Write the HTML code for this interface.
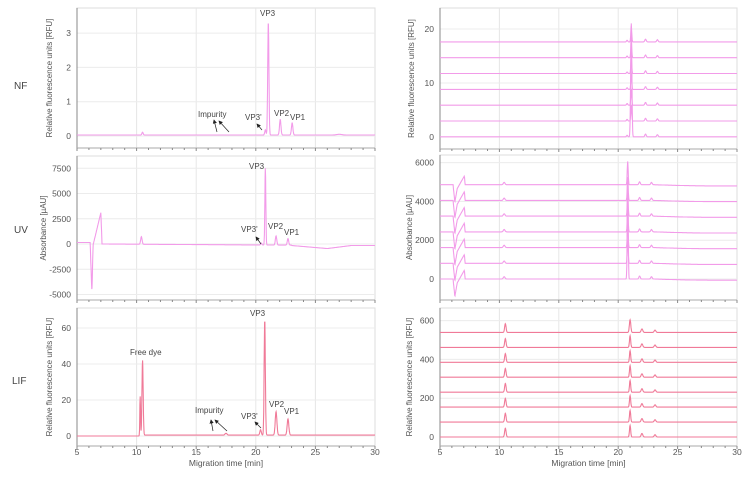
<!DOCTYPE html>
<html><head><meta charset="utf-8">
<style>
html,body{margin:0;padding:0;background:#fff;}
svg{display:block;font-family:"Liberation Sans",sans-serif;}
</style></head>
<body>
<svg id="s" width="750" height="488" viewBox="0 0 750 488" xmlns="http://www.w3.org/2000/svg">
<defs><marker id="ah" markerWidth="6" markerHeight="6" refX="5" refY="3" orient="auto"><path d="M0,0 L6,3 L0,6 z" fill="#222"/></marker></defs>
<g id="g"></g>
<g font-size="9" fill="#444">
<text x="14" y="89" font-size="10">NF</text>
<text x="14" y="233" font-size="10">UV</text>
<text x="12" y="384" font-size="10">LIF</text>
<text x="260" y="16" font-size="8">VP3</text>
<text x="198" y="117" font-size="8">Impurity</text>
<text x="245" y="120" font-size="8">VP3'</text>
<text x="274" y="116" font-size="8">VP2</text>
<text x="290" y="120" font-size="8">VP1</text>
<text x="249" y="169" font-size="8">VP3</text>
<text x="241" y="232" font-size="8">VP3'</text>
<text x="268" y="229" font-size="8">VP2</text>
<text x="284" y="235" font-size="8">VP1</text>
<text x="250" y="316" font-size="8">VP3</text>
<text x="130" y="355" font-size="8">Free dye</text>
<text x="195" y="413" font-size="8">Impurity</text>
<text x="241" y="419" font-size="8">VP3'</text>
<text x="269" y="407" font-size="8">VP2</text>
<text x="284" y="414" font-size="8">VP1</text>
</g>
<g stroke="#222" stroke-width="0.7" marker-end="url(#ah)">
<line x1="217" y1="132" x2="214" y2="120"/><line x1="229" y1="132" x2="219" y2="121"/>
<line x1="262" y1="130" x2="257" y2="124"/>
<line x1="261" y1="244" x2="256" y2="237"/>
<line x1="213" y1="431" x2="211" y2="420"/><line x1="227" y1="431" x2="215" y2="420"/>
<line x1="261" y1="428" x2="255" y2="422"/>
</g>
</svg>
<script>
const g=document.getElementById('g');let h='';
function gs(t,c,w,a){return a*Math.exp(-((t-c)*(t-c))/(2*w*w));}
function panel(o){
 const {x0,x1,yt,yb,y0,sc,ticks,lab,lx,xl}=o;
 const X=t=>x0+(t-5)*(x1-x0)/25, Y=v=>y0-v*sc;
 h+=`<rect x="${x0}" y="${yt}" width="${x1-x0}" height="${yb-yt}" fill="none" stroke="#ddd" stroke-width="1"/>`;
 for(const t of [10,15,20,25]) h+=`<line x1="${X(t)}" x2="${X(t)}" y1="${yt}" y2="${yb}" stroke="#e6e6e6"/>`;
 for(const v of ticks){h+=`<line x1="${x0}" x2="${x1}" y1="${Y(v)}" y2="${Y(v)}" stroke="#ececec"/>`;
  h+=`<text x="${x0-6}" y="${Y(v)+3}" font-size="8.5" fill="#555" text-anchor="end">${v}</text>`;}
 h+=`<line x1="${x0}" x2="${x0}" y1="${yt}" y2="${yb}" stroke="#888"/>`;
 h+=`<line x1="${x0}" x2="${x1}" y1="${yb}" y2="${yb}" stroke="#aaa"/>`;
 for(let t=5;t<=30;t++) h+=`<line x1="${X(t)}" x2="${X(t)}" y1="${yb}" y2="${yb+(t%5?2:3)}" stroke="#888"/>`;
 h+=`<text transform="translate(${lx},${(yt+yb)/2}) rotate(-90)" font-size="8" fill="#555" text-anchor="middle">${lab}</text>`;
 if(xl){for(const t of [5,10,15,20,25,30]) h+=`<text x="${X(t)}" y="${yb+9}" font-size="8.5" fill="#555" text-anchor="middle">${t}</text>`;
  h+=`<text x="${(x0+x1)/2}" y="${yb+20}" font-size="8.5" fill="#555" text-anchor="middle">Migration time [min]</text>`;}
 for(const tr of o.traces){let d='';for(let t=5;t<=30;t+=0.02){d+=(d?'L':'M')+X(t).toFixed(1)+','+Y(tr.f(t)).toFixed(1);}
  h+=`<path d="${d}" fill="none" stroke="${o.col}" stroke-width="1.1"/>`;}
}
const nf=t=>0.03+gs(t,10.5,0.05,0.08)+gs(t,20.8,0.05,0.15)+gs(t,21.05,0.05,3.3)+gs(t,22.05,0.06,0.45)+gs(t,23.05,0.06,0.35)+gs(t,27,0.2,0.02);
const uv=t=>{let v;
 if(t<6.1)v=150;else if(t<6.25)v=150-4950*(t-6.1)/0.15;else if(t<6.35)v=-4800+4700*(t-6.25)/0.1;
 else if(t<7.0)v=-100+3200*(t-6.35)/0.65;else if(t<7.1)v=3100-3100*(t-7)/0.1;else v=-100*(t-7)/14;
 if(t>23)v=-150-300*Math.min(1,(t-23)/3)+ (t>26?300*Math.min(1,(t-26)/2):0);
 return v+gs(t,10.4,0.06,750)+gs(t,20.45,0.05,200)+gs(t,20.8,0.04,7600)+gs(t,21.7,0.06,900)+gs(t,22.7,0.06,650);};
const lif=t=>(t>10.6?0.5:0)+gs(t,10.3,0.03,22)+gs(t,10.5,0.05,42)+gs(t,17.5,0.08,1)+gs(t,20.4,0.06,3)+gs(t,20.75,0.05,64)+gs(t,21.7,0.07,13)+gs(t,22.7,0.07,9);
panel({x0:77,x1:375,yt:8,yb:148,y0:136,sc:34.3,ticks:[0,1,2,3],lab:'Relative fluorescence units [RFU]',lx:52,col:'#f29be9',traces:[{f:nf}]});
panel({x0:77,x1:375,yt:156,yb:300,y0:244,sc:0.0101,ticks:[-5000,-2500,0,2500,5000,7500],lab:'Absorbance [µAU]',lx:46,col:'#f29be9',traces:[{f:uv}]});
panel({x0:77,x1:375,yt:308,yb:446,y0:436,sc:1.8,ticks:[0,20,40,60],lab:'Relative fluorescence units [RFU]',lx:52,col:'#f07a98',xl:1,traces:[{f:lif}]});
const nfr=[],uvr=[],lifr=[];
for(let i=0;i<7;i++){const o=i*2.93;nfr.push({f:t=>o+0.03+(i==0?gs(t,21.1,0.05,21):gs(t,21.1,0.04,3))+gs(t,20.75,0.05,0.3)+gs(t,22.3,0.06,0.5)+gs(t,23.3,0.06,0.4)});}
for(let i=0;i<7;i++){const o=i*810;uvr.push({f:t=>{let v=o;
 if(t>6.1&&t<6.25)v-=900*(t-6.1)/0.15;else if(t>=6.25&&t<6.45)v+=-900+700*(t-6.25)/0.2;else if(t>=6.45&&t<7.05)v+=-200+650*(t-6.45)/0.6;else if(t>=7.05&&t<7.12)v+=450-450*(t-7.05)/0.07;
 if(t>23)v-=60*Math.sin(Math.min(1,(t-23)/5)*Math.PI/2);
 return v+gs(t,10.4,0.07,120)+(i==0?gs(t,20.8,0.04,5000):gs(t,20.8,0.04,1200))+gs(t,21.8,0.06,150)+gs(t,22.8,0.06,120);}});}
for(let i=0;i<8;i++){const o=i*77;lifr.push({f:t=>o+gs(t,10.5,0.06,45)+(i==7?gs(t,21.0,0.06,65):gs(t,21.0,0.05,60))+gs(t,22.0,0.07,18)+gs(t,23.1,0.07,12)});}
panel({x0:440,x1:737,yt:8,yb:149,y0:137,sc:5.4,ticks:[0,10,20],lab:'Relative fluorescence units [RFU]',lx:414,col:'#f29be9',traces:nfr});
panel({x0:440,x1:737,yt:155,yb:300,y0:279,sc:0.0194,ticks:[0,2000,4000,6000],lab:'Absorbance [µAU]',lx:412,col:'#f29be9',traces:uvr});
panel({x0:440,x1:737,yt:308,yb:446,y0:437,sc:0.194,ticks:[0,200,400,600],lab:'Relative fluorescence units [RFU]',lx:412,col:'#f07a98',xl:1,traces:lifr});
g.innerHTML=h;
</script>
</body></html>
